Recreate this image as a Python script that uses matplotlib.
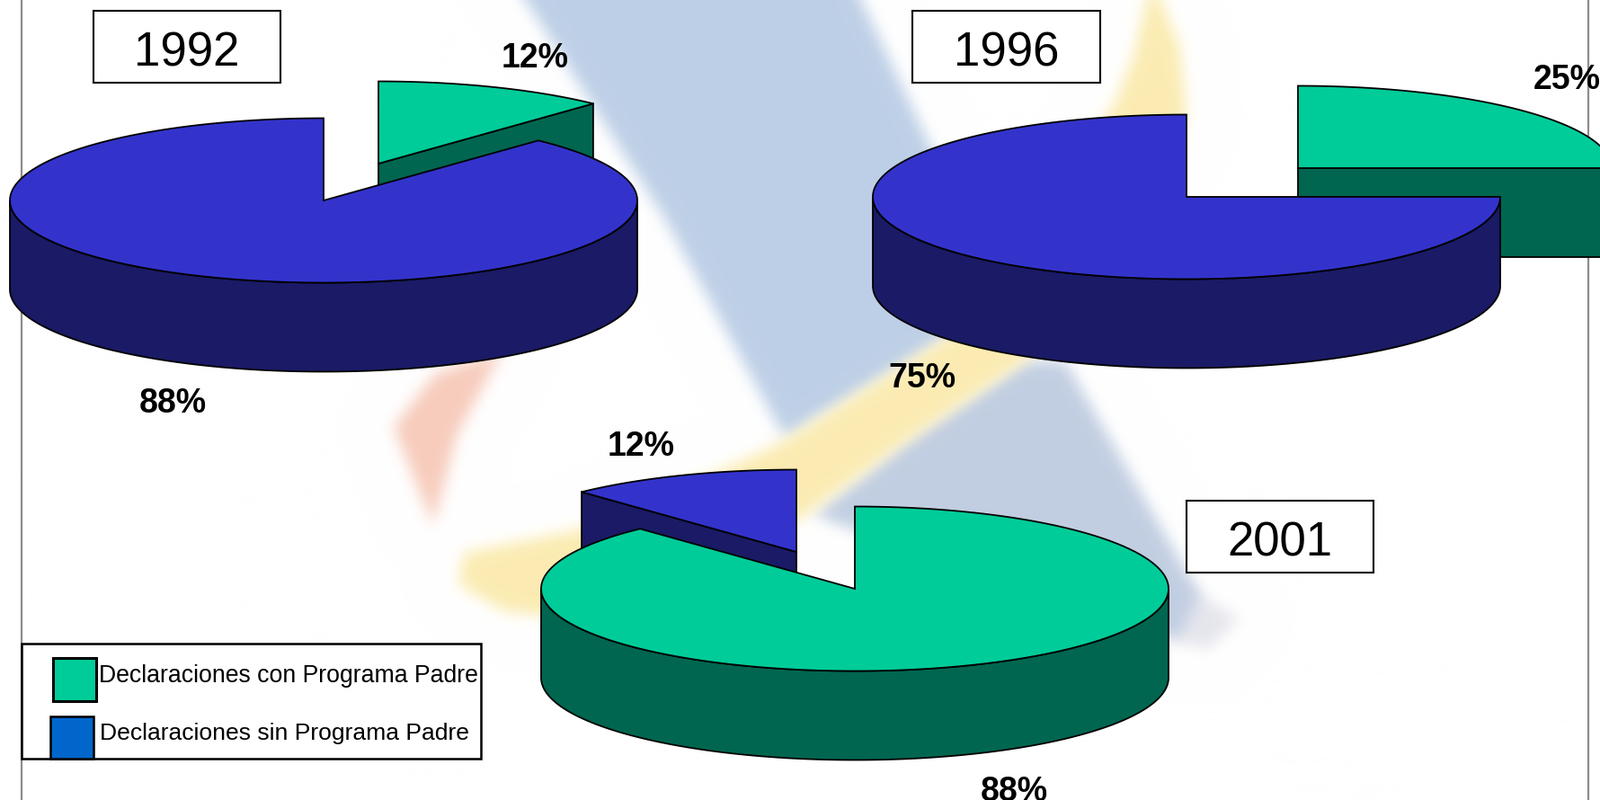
import numpy as np
import matplotlib
matplotlib.use("Agg")
import matplotlib.pyplot as plt
from matplotlib.patches import Polygon, Rectangle
from matplotlib.path import Path

plt.rcParams['font.family'] = ['Liberation Sans', 'DejaVu Sans']

# ---------- data ----------
years = ["1992", "1996", "2001"]
con_programa = [12, 25, 88]
sin_programa = [88, 75, 12]
series_names = ["Declaraciones con Programa Padre", "Declaraciones sin Programa Padre"]

# ---------- style ----------
W, H = 1781, 890
GREEN, GREEN_D = "#00CC99", "#006650"
BLUE, BLUE_D = "#3333CC", "#1A1A66"
SWATCH_BLUE = "#0066CC"
LW = 1.3
RX, RY, DEPTH = 349, 91.5, 99

fig = plt.figure(figsize=(W / 100, H / 100), dpi=100)
ax = fig.add_axes([0, 0, 1, 1])
ax.set_xlim(0, W)
ax.set_ylim(H, 0)
ax.axis("off")


# ---------- faded watermark behind the charts ----------
def watermark():
    pad = 80
    PH, PW = H + 2 * pad, W + 2 * pad
    yy, xx = np.mgrid[0:PH, 0:PW]
    pts = np.column_stack([xx.ravel() + .5 - pad, yy.ravel() + .5 - pad])
    shapes = [
        ([(1300, 640), (1378, 688), (1345, 722), (1240, 700)], (0.90, 0.90, 0.93)),
        ([(540, -70), (739, 242), (873, 487), (1058, 373), (1100, 300), (925, -70)], (0.745, 0.815, 0.905)),
        ([(1140, 402), (1185, 402), (1335, 662), (1310, 710), (930, 582), (905, 572), (1010, 490)],
         (0.76, 0.81, 0.885)),
        ([(1281, -25), (1262, 60), (1240, 115), (1180, 200), (1058, 373), (866, 494), (803, 523), (640, 590),
          (516, 615), (510, 650), (560, 680), (650, 690), (780, 650), (900, 570), (1010, 490), (1140, 402),
          (1250, 300), (1320, 126), (1312, 50)], (0.985, 0.925, 0.70)),
        ([(560, 388), (484, 416), (438, 475), (482, 585), (508, 485), (540, 425)], (0.97, 0.80, 0.74)),
    ]
    img = np.ones((PH, PW, 3))
    fy = np.fft.fftfreq(PH)[:, None]
    fx = np.fft.rfftfreq(PW)[None, :]
    sigma = 8.0
    kern = np.exp(-2 * (np.pi * sigma) ** 2 * (fx ** 2 + fy ** 2))
    for poly, col in shapes:
        m = Path(poly).contains_points(pts).reshape(PH, PW).astype(float)
        m = np.clip(np.fft.irfft2(np.fft.rfft2(m) * kern, s=(PH, PW)), 0, 1)[..., None]
        img = img * (1 - m) + np.array(col) * m
    ax.imshow(img[pad:-pad, pad:-pad], extent=(0, W, H, 0), aspect="auto", zorder=0, interpolation="nearest")
    ax.set_xlim(0, W)
    ax.set_ylim(H, 0)


watermark()

# side rules
for x in (24, 1767):
    ax.plot([x, x], [0, H], color="#8c8c8c", lw=1.6, zorder=1)


def arc(cx, cy, a0, a1, n=200):
    t = np.radians(np.linspace(a0, a1, n))
    return np.column_stack([cx + RX * np.sin(t), cy - RY * np.cos(t)])


def slice3d(cx, cy, frac0, frac, top, side, z):
    """One pie slice; angles run clockwise from 12 o'clock and come from the value."""
    a0, a1 = 360 * frac0, 360 * (frac0 + frac)
    down = np.array([0, DEPTH])
    c = np.array([cx, cy])
    # outer wall (only the part facing the viewer)
    lo, hi = max(a0, 90), min(a1, 270)
    if hi > lo:
        a = arc(cx, cy, lo, hi)
        ax.add_patch(Polygon(np.vstack([a, (a + down)[::-1]]), fc=side, ec="black", lw=LW, zorder=z))
    # cut faces that are turned to the viewer
    if a1 < 180:
        e = arc(cx, cy, a1, a1, 1)[0]
        ax.add_patch(Polygon([c, e, e + down, c + down], fc=side, ec="black", lw=LW, zorder=z))
    if a0 > 180:
        e = arc(cx, cy, a0, a0, 1)[0]
        ax.add_patch(Polygon([c, e, e + down, c + down], fc=side, ec="black", lw=LW, zorder=z))
    ax.add_patch(Polygon(np.vstack([c, arc(cx, cy, a0, a1)]), fc=top, ec="black", lw=LW, zorder=z + .1))


# (centre of main slice, offset of detached slice)
layout = [((360, 223), (61, -41)), ((1320, 219), (124, -32)), ((951, 655), (-65, -41))]

for i in range(3):
    (cx, cy), (dx, dy) = layout[i]
    con = con_programa[i] / 100
    sin = sin_programa[i] / 100
    if i < 2:
        slice3d(cx + dx, cy + dy, 0, con, GREEN, GREEN_D, 3)
        slice3d(cx, cy, con, sin, BLUE, BLUE_D, 4)
    else:
        slice3d(cx + dx, cy + dy, con, sin, BLUE, BLUE_D, 3)
        slice3d(cx, cy, 0, con, GREEN, GREEN_D, 4)

# percentage labels
label_pos = [((595, 65), (192, 449)), ((1743, 89), (1026, 421)), ((1128, 881), (713, 497))]
for i in range(3):
    pc, ps = label_pos[i]
    ax.text(*pc, f"{con_programa[i]}%", fontsize=27, fontweight="bold", ha="center", va="center", zorder=6)
    ax.text(*ps, f"{sin_programa[i]}%", fontsize=27, fontweight="bold", ha="center", va="center", zorder=6)

# year boxes
boxes = [(104, 12, 208, 80), (1015.5, 12, 208.5, 80), (1320, 556.5, 208, 80)]
for yr, (x, y, w, h) in zip(years, boxes):
    ax.add_patch(Rectangle((x, y), w, h, fc="white", ec="black", lw=1.5, zorder=5))
    ax.text(x + w / 2, y + h / 2 + 8, yr, fontsize=38, ha="center", va="center", zorder=6)

# legend
ax.add_patch(Rectangle((24, 716), 511.5, 128, fc="white", ec="black", lw=1.8, zorder=5))
ax.add_patch(Rectangle((59.5, 732), 48, 48, fc=GREEN, ec="black", lw=2.2, zorder=6))
ax.add_patch(Rectangle((56.5, 796.5), 47.5, 47.5, fc=SWATCH_BLUE, ec="black", lw=1.8, zorder=6))
ax.text(110, 752, series_names[0], fontsize=19.15, ha="left", va="center", zorder=7)
ax.text(111, 816, series_names[1], fontsize=19.05, ha="left", va="center", zorder=7)

fig.savefig("out.png", dpi=100)
